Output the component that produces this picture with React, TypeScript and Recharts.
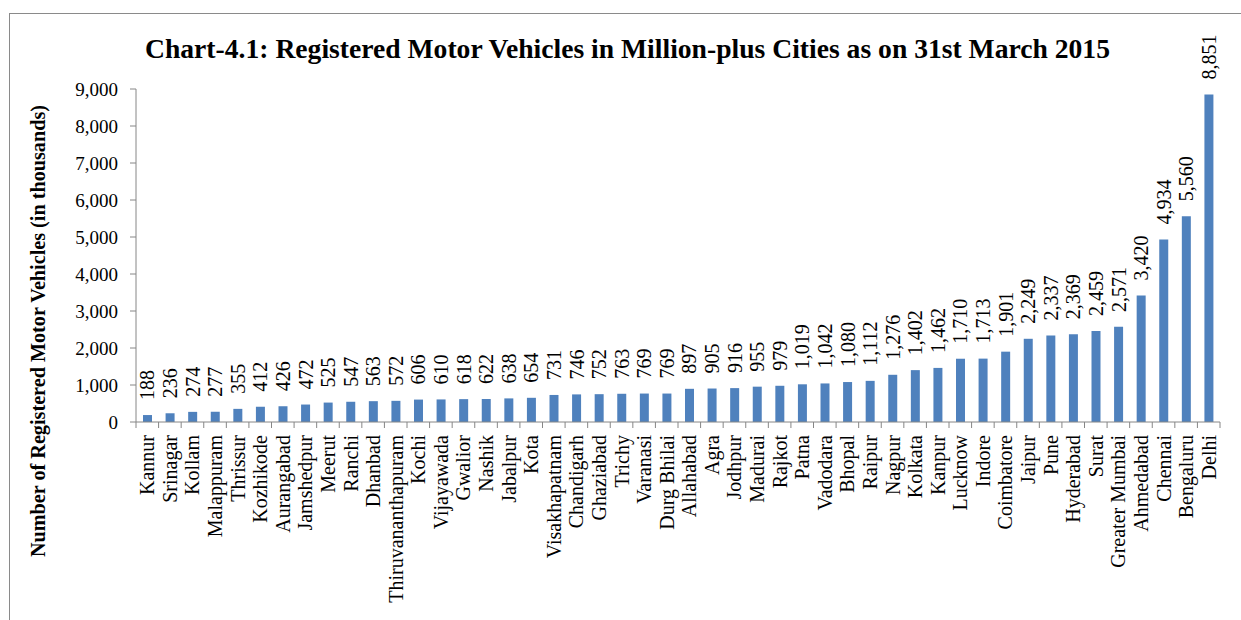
import React from 'react';
import { BarChart, Bar, XAxis, YAxis, LabelList } from 'recharts';

const cities = [
  'Kannur', 'Srinagar', 'Kollam', 'Malappuram', 'Thrissur', 'Kozhikode', 'Aurangabad', 'Jamshedpur',
  'Meerut', 'Ranchi', 'Dhanbad', 'Thiruvananthapuram', 'Kochi', 'Vijayawada', 'Gwalior', 'Nashik',
  'Jabalpur', 'Kota', 'Visakhapatnam', 'Chandigarh', 'Ghaziabad', 'Trichy', 'Varanasi', 'Durg Bhilai',
  'Allahabad', 'Agra', 'Jodhpur', 'Madurai', 'Rajkot', 'Patna', 'Vadodara', 'Bhopal',
  'Raipur', 'Nagpur', 'Kolkata', 'Kanpur', 'Lucknow', 'Indore', 'Coimbatore', 'Jaipur',
  'Pune', 'Hyderabad', 'Surat', 'Greater Mumbai', 'Ahmedabad', 'Chennai', 'Bengaluru', 'Delhi',
];

const vehicles = [
  188, 236, 274, 277, 355, 412, 426, 472,
  525, 547, 563, 572, 606, 610, 618, 622,
  638, 654, 731, 746, 752, 763, 769, 769,
  897, 905, 916, 955, 979, 1019, 1042, 1080,
  1112, 1276, 1402, 1462, 1710, 1713, 1901, 2249,
  2337, 2369, 2459, 2571, 3420, 4934, 5560, 8851,
];

const yTicks = [0, 1000, 2000, 3000, 4000, 5000, 6000, 7000, 8000, 9000];

const titleText = 'Chart-4.1: Registered Motor Vehicles in Million-plus Cities as on 31st March 2015';
const yLabelText = 'Number of Registered Motor Vehicles (in thousands)';

const data = cities.map((city, i) => ({ city, value: vehicles[i] }));

const FONT = '"Liberation Serif", "Times New Roman", Times, serif';
const AXIS = '#868686';
const W = 1241;
const H = 620;
const M = { top: 89, right: 21, bottom: 18, left: 36 };
const Y_W = 100;
const plotW = W - M.left - Y_W - M.right;
const band = plotW / cities.length;

const fmt = (v: any) => Number(v).toLocaleString('en-US');

const CatTick = (props: any) => {
  const { x, y, payload, index } = props;
  const half = band / 2;
  const ty = y + 13;
  return (
    <g>
      <line x1={x - half} x2={x - half} y1={y} y2={y + 6} stroke={AXIS} strokeWidth={1} />
      {index === cities.length - 1 && (
        <line x1={x + half} x2={x + half} y1={y} y2={y + 6} stroke={AXIS} strokeWidth={1} />
      )}
      <text
        x={x}
        y={ty}
        transform={`rotate(-90 ${x} ${ty})`}
        textAnchor="end"
        dominantBaseline="central"
        fontSize={20}
        fontFamily={FONT}
        fill="#000"
      >
        {payload.value}
      </text>
    </g>
  );
};

const ValueLabel = (props: any) => {
  const { x, y, width, value } = props;
  const cx = Number(x) + Number(width) / 2;
  const ty = Number(y) - 15;
  return (
    <text
      x={cx}
      y={ty}
      transform={`rotate(-90 ${cx} ${ty})`}
      textAnchor="start"
      dominantBaseline="central"
      fontSize={20}
      fontFamily={FONT}
      fill="#000"
    >
      {fmt(value)}
    </text>
  );
};

export default function App() {
  return (
    <div style={{ position: 'absolute', left: 0, top: 0, width: W, height: H, background: '#fff', overflow: 'hidden' }}>
      <div
        style={{
          position: 'absolute',
          left: 9,
          top: 13,
          width: W,
          height: H,
          borderTop: '1px solid #8a8a8a',
          borderLeft: '1px solid #8a8a8a',
        }}
      />
      <BarChart width={W} height={H} data={data} margin={M} barCategoryGap={0}>
        <XAxis
          dataKey="city"
          interval={0}
          tickLine={false}
          tickSize={0}
          tickMargin={0}
          height={180}
          stroke={AXIS}
          tick={<CatTick />}
        />
        <YAxis
          width={Y_W}
          domain={[0, 9000]}
          ticks={yTicks}
          interval={0}
          tickSize={6}
          tickMargin={12}
          stroke={AXIS}
          tickFormatter={fmt}
          tick={{ fill: '#000', fontSize: 19, fontFamily: FONT }}
        />
        <Bar dataKey="value" fill="#4F81BD" barSize={9} isAnimationActive={false}>
          <LabelList dataKey="value" content={<ValueLabel />} />
        </Bar>
      </BarChart>
      <svg width={W} height={H} style={{ position: 'absolute', left: 0, top: 0, pointerEvents: 'none' }}>
        <text
          x={627.5}
          y={58}
          textAnchor="middle"
          fontSize={27}
          fontWeight="bold"
          fontFamily={FONT}
          fill="#000"
          textLength={965}
          lengthAdjust="spacingAndGlyphs"
        >
          {titleText}
        </text>
        <text
          x={38}
          y={331}
          transform="rotate(-90 38 331)"
          textAnchor="middle"
          dominantBaseline="central"
          fontSize={20}
          fontWeight="bold"
          fontFamily={FONT}
          fill="#000"
          textLength={452}
          lengthAdjust="spacingAndGlyphs"
        >
          {yLabelText}
        </text>
      </svg>
    </div>
  );
}
